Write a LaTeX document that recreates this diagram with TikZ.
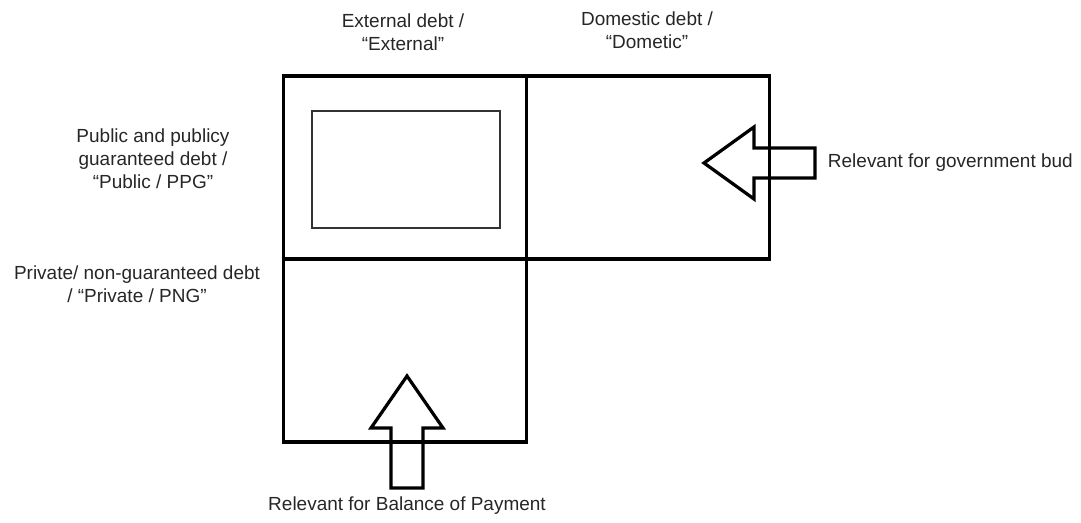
\documentclass[tikz,border=0pt]{standalone}
\usepackage{fontspec}
\setmainfont{Liberation Sans}
\usepackage{xcolor}
\usepackage{tikz}
\usetikzlibrary{arrows.meta, calc, positioning}

\tikzset{
  debtbox/.style={draw, line width=2.6pt, minimum width=243*0.025cm, minimum height=183*0.025cm, inner sep=0pt, outer sep=0pt},
  lbl/.style={align=center, text=black!85, font=\fontsize{13.5}{16.5}\selectfont},
  blockarrow/.style={draw, line width=2.3pt, line join=miter},
}

\begin{document}
\begin{tikzpicture}[x=0.025cm, y=-0.025cm]

\useasboundingbox (0,0) rectangle (1081,523);

% Boxes
\node[debtbox] (ext) at (405,167.5) {};
\node[debtbox] (dom) at (648,167.5) {};
\node[debtbox] (priv) at (405,350.5) {};
\draw[line width=1.3pt, black!80] (312,111) rectangle (500,228);

% Labels
\node[lbl] (extlbl) at (403,32) {External debt /\\``External"};
\node[lbl] (domlbl) at (647,30) {Domestic debt /\\``Dometic"};
\node[lbl] (publbl) at (153,159) {Public and publicy\\guaranteed debt /\\``Public / PPG"};
\node[lbl] (privlbl) at (137,284) {Private/ non-guaranteed debt\\/ ``Private / PNG"};

% Left arrow
\draw[blockarrow] (704,163) -- (754,127) -- (754,148) -- (815,148)
  -- (815,178) -- (754,178) -- (754,199) -- cycle;
\node[lbl, anchor=west] (govlbl) at (823,163) {Relevant for government bud};

% Up arrow
\draw[blockarrow] (407,376) -- (443,428) -- (423,428) -- (423,488)
  -- (391,488) -- (391,428) -- (371,428) -- cycle;
\node[lbl] (boplbl) at (407,506) {Relevant for Balance of Payment};

\end{tikzpicture}
\end{document}
